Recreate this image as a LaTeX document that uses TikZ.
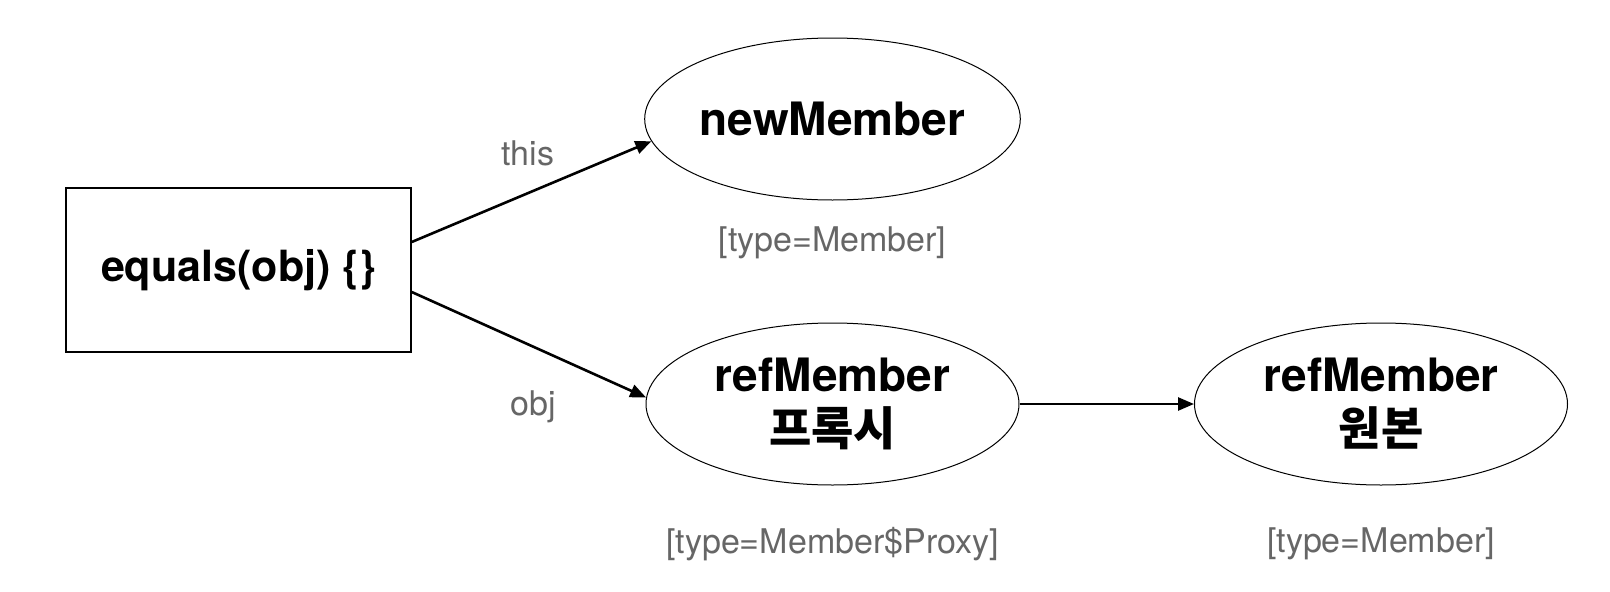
\documentclass[tikz,border=0pt]{standalone}
\usepackage{fontspec}
\setmainfont{TeX Gyre Heros}
\newfontfamily\kr{Noto Sans CJK KR}
\usetikzlibrary{shapes.geometric,arrows.meta}
\definecolor{lbl}{HTML}{666666}
\tikzset{
  big/.style={font=\fontsize{46}{54}\selectfont\bfseries, align=center},
  oval/.style={ellipse, draw, line width=1pt, minimum width=373pt, minimum height=162pt, inner sep=0pt, big},
  box/.style={rectangle, draw, line width=1.5pt, minimum width=345pt, minimum height=164pt, inner sep=0pt, font=\fontsize{43}{50}\selectfont\bfseries},
  sub/.style={text=lbl, font=\fontsize{34}{40}\selectfont, inner sep=0pt},
  conn/.style={line width=2.6pt, -{Triangle[length=16pt,width=13pt]}}
}
\begin{document}
\begin{tikzpicture}[x=1pt,y=-1pt]
\useasboundingbox (0,0) rectangle (1610,592);
\node[box] (eq) at (238.5,270) {equals(obj) \{\}};
\node[oval] (nm) at (832.5,119) {newMember};
\node[oval] (px) at (832.5,404) {refMember\\{\kr\bfseries 프록시}};
\node[oval] (og) at (1381,404) {refMember\\{\kr\bfseries 원본}};
\node[sub] (t1) at (832.5,243) {[type=Member]};
\node[sub] (t2) at (832.5,544) {[type=Member\$Proxy]};
\node[sub] (t3) at (1381,544) {[type=Member]};
\node[sub, anchor=base] (lthis) at (528,165) {this};
\node[sub, anchor=base] (lobj) at (533,415) {obj};
\draw[conn] ([yshift=28pt]eq.east) -- (nm.187);
\draw[conn] ([yshift=-22pt]eq.east) -- (px.178);
\draw[conn] (px.east) -- (og.west);
\end{tikzpicture}
\end{document}
